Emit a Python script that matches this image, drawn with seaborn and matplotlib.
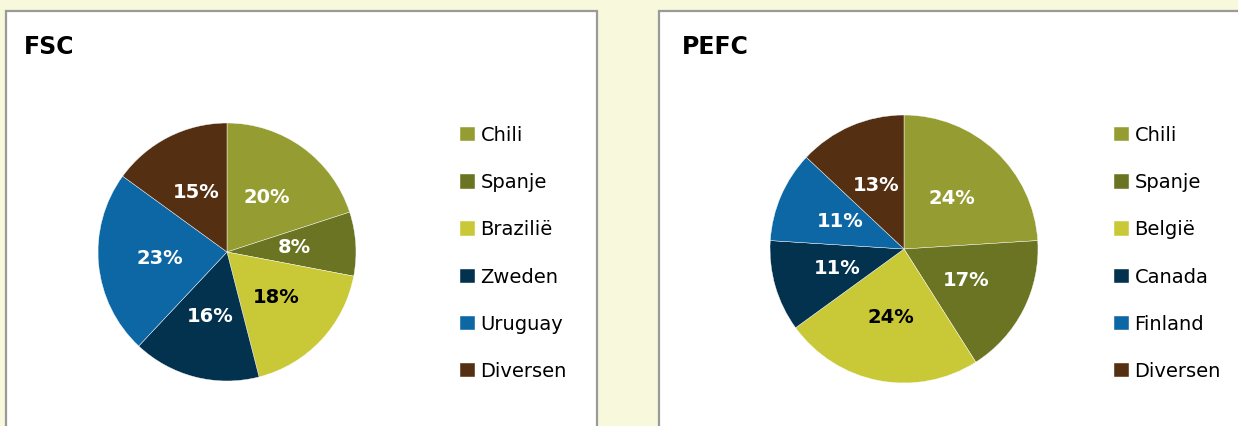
import matplotlib
matplotlib.use("Agg")
import matplotlib.pyplot as plt
import seaborn as sns
from matplotlib.patches import Rectangle

# ==========================================
# DATA
# ==========================================
fsc_labels = ['Chili', 'Spanje', 'Brazilië', 'Zweden', 'Uruguay', 'Diversen']
fsc_values = [20, 8, 18, 16, 23, 15]

pefc_labels = ['Chili', 'Spanje', 'België', 'Canada', 'Finland', 'Diversen']
pefc_values = [24, 17, 24, 11, 11, 13]

slice_colors = ['#959d32', '#6b7423', '#c9c938', '#03324e', '#0c67a4', '#552f11']
pct_colors = ['white', 'white', 'black', 'white', 'white', 'white']

# ==========================================
# STYLE
# ==========================================
sns.set_theme(style="white")
plt.rcParams['font.family'] = ['DejaVu Sans']
plt.rcParams['text.color'] = 'black'
palette = sns.color_palette(slice_colors)

W, H = 1238, 426
fig = plt.figure(figsize=(W / 100, H / 100), dpi=100)
fig.patch.set_facecolor('#f8f8dc')

# white panels with a grey border (extend below the bottom edge)
for x0, x1 in [(6, 597), (659, 1250)]:
    fig.patches.append(Rectangle((x0 / W, -0.1), (x1 - x0) / W, (H - 11) / H + 0.1,
                                 transform=fig.transFigure, facecolor='white',
                                 edgecolor='#9a9a9a', linewidth=1.6, zorder=-5))


def draw_pie(cx, cy, r, values, labels, title, title_x, leg_x, leg_y):
    ax = fig.add_axes([(cx - r) / W, (H - cy - r) / H, 2 * r / W, 2 * r / H])
    ax.set_zorder(2)
    wedges, texts, autotexts = ax.pie(values, colors=palette, startangle=90,
                                      counterclock=False, radius=1,
                                      autopct='%d%%', pctdistance=0.52,
                                      wedgeprops=dict(linewidth=0.3, edgecolor='white'),
                                      textprops=dict(fontsize=14, fontweight='bold'))
    for t, c in zip(autotexts, pct_colors):
        t.set_color(c)
    ax.set_xlim(-1, 1)
    ax.set_ylim(-1, 1)
    ax.set_aspect('auto')
    ax.axis('off')

    fig.text(title_x / W, 1 - 47 / H, title, fontsize=17, fontweight='bold',
             color='black', va='center', ha='left')

    leg = fig.legend(wedges, labels, loc='upper left',
                     bbox_to_anchor=(leg_x / W, 1 - leg_y / H),
                     frameon=False, fontsize=14, handlelength=0.75, handleheight=0.75,
                     handletextpad=0.3, labelspacing=1.45, borderpad=0, borderaxespad=0)
    for t in leg.get_texts():
        t.set_color('black')


draw_pie(227, 252, 129, fsc_values, fsc_labels, 'FSC', 24, 460, 126)
draw_pie(904, 249, 134, pefc_values, pefc_labels, 'PEFC', 682, 1114, 126)

plt.savefig('out.png', dpi=100, facecolor=fig.get_facecolor())
